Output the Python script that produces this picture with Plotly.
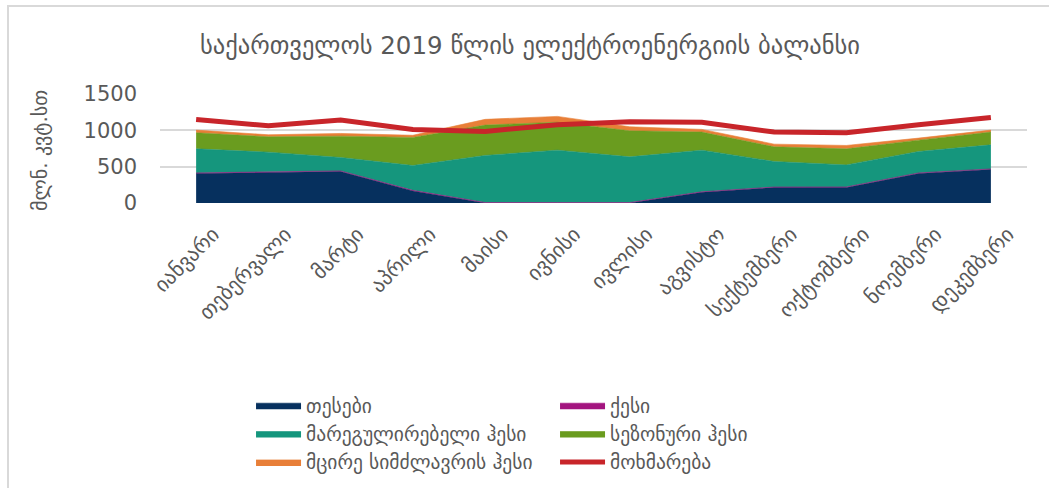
import plotly.graph_objects as go

months = ["იანვარი", "თებერვალი", "მარტი", "აპრილი", "მაისი", "ივნისი",
          "ივლისი", "აგვისტო", "სექტემბერი", "ოქტომბერი", "ნოემბერი", "დეკემბერი"]

thermal = [406, 420, 433, 166, 0, 0, 0, 148, 213, 213, 406, 461]
wind = [8, 8, 9, 8, 7, 6, 6, 6, 7, 8, 8, 8]
reg_hpp = [331, 272, 184, 342, 647, 721, 629, 573, 351, 303, 295, 331]
seasonal_hpp = [221, 211, 294, 386, 418, 385, 359, 249, 202, 221, 156, 176]
small_hpp = [37, 28, 37, 30, 79, 80, 55, 37, 37, 47, 28, 27]
consumption = [1150, 1062, 1141, 1013, 985, 1078, 1118, 1110, 976, 966, 1076, 1178]

names = ["თესები", "ქესი", "მარეგულირებელი ჰესი", "სეზონური ჰესი", "მცირე სიმძლავრის ჰესი", "მოხმარება"]
colors = ["#06305e", "#a3147f", "#15967d", "#6a9c1f", "#e87f38", "#c8252a"]

FONT = "Century Gothic, DejaVu Sans, sans-serif"
GRAY = "#595959"

fig = go.Figure()
for vals, name, col in zip([thermal, wind, reg_hpp, seasonal_hpp, small_hpp], names[:5], colors[:5]):
    fig.add_trace(go.Scatter(x=months, y=vals, name=name, stackgroup="one", mode="lines",
                             line=dict(width=0.6, color=col), fillcolor=col))
fig.add_trace(go.Scatter(x=months, y=consumption, name=names[5], mode="lines",
                         line=dict(width=5, color=colors[5])))

fig.update_layout(
    width=1049, height=488,
    margin=dict(l=160, r=22, t=94, b=285),
    paper_bgcolor="white", plot_bgcolor="white",
    font=dict(family=FONT, color=GRAY, size=16),
    title=dict(text="საქართველოს 2019 წლის ელექტროენერგიის ბალანსი",
               x=530 / 1049, xref="container", xanchor="center",
               y=1 - 45 / 488, yref="container", yanchor="middle",
               font=dict(size=24.5, color=GRAY, family=FONT)),
    xaxis=dict(range=[-0.5, 11.5], showgrid=False, showline=False, zeroline=False,
               tickangle=-45, tickfont=dict(size=21, color=GRAY),
               ticklabelstandoff=14, ticklabelshift=17),
    yaxis=dict(range=[0, 1500], tickvals=[0, 500, 1000, 1500], showgrid=True,
               gridcolor="#d9d9d9", gridwidth=1.5, zeroline=False, showline=False,
               tickfont=dict(size=21, color=GRAY, family="DejaVu Sans"), ticklabelstandoff=22),
    legend=dict(orientation="h", x=0.105, xanchor="left",
                y=1 - 386 / 488, yref="container", yanchor="top",
                entrywidth=244, itemwidth=45, font=dict(size=19.5, color=GRAY),
                traceorder="normal", tracegroupgap=0),
    showlegend=True,
    annotations=[dict(text="მლნ. კვტ.სთ", x=(40 - 160) / 867, y=1 - 56 / 109,
                      xref="paper", yref="paper", textangle=-90, showarrow=False,
                      font=dict(size=20, color=GRAY, family=FONT),
                      xanchor="center", yanchor="middle")],
    shapes=[dict(type="rect", xref="paper", yref="paper",
                 x0=(8 - 160) / 867, x1=(1060 - 160) / 867,
                 y0=1 - (500 - 94) / 109, y1=1 + (94 - 6) / 109,
                 line=dict(color="#d9d9d9", width=2), fillcolor="rgba(0,0,0,0)", layer="below")],
)

fig.write_html("out.html", config={"displayModeBar": False},
               post_script="document.body.style.margin='0';")
